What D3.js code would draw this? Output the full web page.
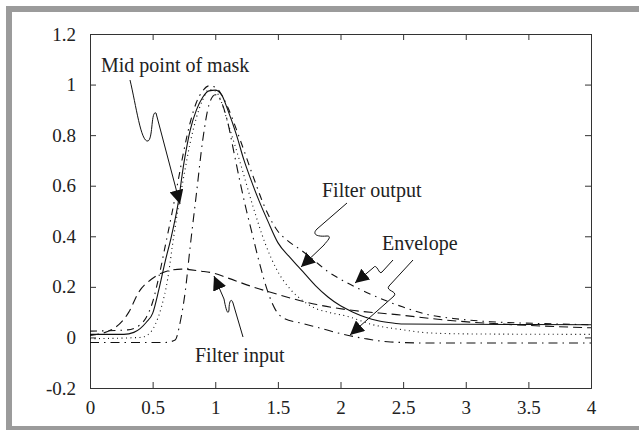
<!DOCTYPE html>
<html>
<head>
<meta charset="utf-8">
<script src="https://cdn.jsdelivr.net/npm/d3@7"></script>
<style>
  body { margin: 0; background: #fff; overflow: hidden; }
</style>
</head>
<body>
<svg id="chart" width="639" height="430"></svg>
<script>
// values
var xTicks = [0, 0.5, 1, 1.5, 2, 2.5, 3, 3.5, 4];
var yTicks = [-0.2, 0, 0.2, 0.4, 0.6, 0.8, 1, 1.2];

// filter output (solid)
var outputX = [0, 0.27, 0.35, 0.4, 0.45, 0.5, 0.55, 0.6, 0.65, 0.7, 0.75, 0.8, 0.85, 0.9, 0.95, 1.0, 1.05, 1.1, 1.17, 1.23, 1.28, 1.35, 1.42, 1.5, 1.6, 1.7, 1.8, 1.9, 2.0, 2.1, 2.2, 2.3, 2.4, 2.5, 3.0, 4.0];
var outputY = [0.012, 0.012, 0.02, 0.035, 0.06, 0.095, 0.19, 0.3, 0.4, 0.52, 0.69, 0.82, 0.9, 0.95, 0.975, 0.978, 0.96, 0.9, 0.8, 0.7, 0.63, 0.54, 0.46, 0.375, 0.315, 0.26, 0.205, 0.16, 0.125, 0.1, 0.08, 0.066, 0.058, 0.053, 0.052, 0.05];

// mid point of mask (dotted)
var midX = [0, 0.4, 0.46, 0.52, 0.57, 0.62, 0.66, 0.7, 0.75, 0.8, 0.85, 0.9, 0.95, 1.0, 1.05, 1.1, 1.2, 1.3, 1.4, 1.5, 1.6, 1.7, 1.8, 1.9, 2.05, 2.26, 2.5, 2.7, 3.0, 4.0];
var midY = [-0.005, 0.0, 0.01, 0.05, 0.12, 0.23, 0.37, 0.5, 0.64, 0.77, 0.87, 0.94, 0.98, 0.975, 0.93, 0.85, 0.69, 0.52, 0.37, 0.26, 0.19, 0.145, 0.115, 0.1, 0.084, 0.05, 0.03, 0.018, 0.014, 0.012];

// filter input (dashed)
var inputX = [0, 0.17, 0.31, 0.39, 0.49, 0.6, 0.73, 0.89, 0.98, 1.1, 1.3, 1.5, 1.68, 1.81, 2.05, 2.45, 2.9, 3.4, 4.0];
var inputY = [0.008, 0.03, 0.1, 0.18, 0.23, 0.26, 0.27, 0.262, 0.255, 0.235, 0.2, 0.17, 0.145, 0.13, 0.11, 0.09, 0.066, 0.05, 0.038];

// upper envelope (dash-dot)
var upperX = [0, 0.3, 0.4, 0.45, 0.5, 0.55, 0.6, 0.65, 0.7, 0.75, 0.8, 0.85, 0.9, 0.95, 1.0, 1.05, 1.1, 1.2, 1.3, 1.4, 1.5, 1.57, 1.7, 1.8, 1.9, 2.0, 2.2, 2.5, 2.7, 2.9, 3.2, 3.6, 4.0];
var upperY = [0.025, 0.03, 0.05, 0.08, 0.14, 0.24, 0.36, 0.48, 0.61, 0.74, 0.85, 0.93, 0.975, 0.995, 0.99, 0.96, 0.91, 0.78, 0.64, 0.51, 0.42, 0.386, 0.34, 0.3, 0.26, 0.23, 0.18, 0.12, 0.09, 0.075, 0.062, 0.055, 0.05];

// lower envelope (dash-dot)
var lowerX = [0, 0.6, 0.68, 0.72, 0.76, 0.8, 0.85, 0.9, 0.95, 1.0, 1.05, 1.1, 1.15, 1.2, 1.25, 1.3, 1.35, 1.42, 1.48, 1.55, 1.7, 1.85, 2.0, 2.2, 2.4, 2.7, 4.0];
var lowerY = [-0.02, -0.02, -0.01, 0.06, 0.18, 0.36, 0.57, 0.78, 0.92, 0.96, 0.93, 0.85, 0.73, 0.61, 0.5, 0.4, 0.3, 0.18, 0.11, 0.075, 0.055, 0.035, 0.015, -0.005, -0.018, -0.022, -0.022];

var serif = '"Liberation Serif", "Times New Roman", "DejaVu Serif", serif';
var svg = d3.select('#chart');
var plot = {left: 90, right: 591, top: 34, bottom: 388};

// grey frame round the figure (right edge runs off the picture)
svg.append('rect')
  .attr('x', 9).attr('y', 9)
  .attr('width', 660).attr('height', 420)
  .attr('fill', 'none')
  .attr('stroke', '#9b9b9b')
  .attr('stroke-width', 6);

var x = d3.scaleLinear().domain([0, 4]).range([plot.left, plot.right]);
var y = d3.scaleLinear().domain([-0.2, 1.2]).range([plot.bottom, plot.top]);

function fmt(d) { return String(Math.round(d * 10) / 10); }

// axes with inward ticks on all four sides
svg.append('g').attr('class', 'axis')
  .attr('transform', 'translate(0,' + plot.bottom + ')')
  .call(d3.axisBottom(x).tickValues(xTicks).tickSize(-6).tickPadding(13).tickFormat(fmt));
svg.append('g').attr('class', 'axis')
  .attr('transform', 'translate(0,' + plot.top + ')')
  .call(d3.axisTop(x).tickValues(xTicks).tickSize(-6).tickFormat(''));
svg.append('g').attr('class', 'axis')
  .attr('transform', 'translate(' + plot.left + ',0)')
  .call(d3.axisLeft(y).tickValues(yTicks).tickSize(-6).tickPadding(14).tickFormat(fmt));
svg.append('g').attr('class', 'axis')
  .attr('transform', 'translate(' + plot.right + ',0)')
  .call(d3.axisRight(y).tickValues(yTicks).tickSize(-6).tickFormat(''));

svg.selectAll('.axis path, .axis line').attr('stroke', '#333').attr('stroke-width', 1);
svg.selectAll('.axis').attr('font-family', null).attr('font-size', null);
svg.selectAll('.axis text')
  .style('font-family', serif)
  .style('font-size', '19px')
  .attr('fill', '#222');

var line = d3.line()
  .x(function(d) { return x(d[0]); })
  .y(function(d) { return y(d[1]); })
  .curve(d3.curveMonotoneX);

var series = [
  {xs: outputX, ys: outputY, dash: null},
  {xs: midX, ys: midY, dash: '1,3.5'},
  {xs: inputX, ys: inputY, dash: '9,5'},
  {xs: upperX, ys: upperY, dash: '7,5,1.5,5'},
  {xs: lowerX, ys: lowerY, dash: '9,5,1.5,5'}
];

svg.append('g').selectAll('path')
  .data(series)
  .enter()
  .append('path')
  .attr('d', function(s) {
    return line(s.xs.map(function(v, i) { return [v, s.ys[i]]; }));
  })
  .attr('fill', 'none')
  .attr('stroke', '#111')
  .attr('stroke-width', 1.1)
  .attr('stroke-dasharray', function(s) { return s.dash; });

// annotations
svg.append('defs').append('marker')
  .attr('id', 'head')
  .attr('viewBox', '0 0 10 10')
  .attr('refX', 10).attr('refY', 5)
  .attr('markerWidth', 14).attr('markerHeight', 14)
  .attr('markerUnits', 'userSpaceOnUse')
  .attr('orient', 'auto')
  .append('path')
  .attr('d', 'M0,0 L10,5 L0,10 Z')
  .attr('fill', '#111');

var notes = [
  {text: 'Mid point of mask', tx: 101, ty: 72,
   d: 'M130,80 C136,105 141,143 148,141 C153,139 151,110 156,113 L180,204'},
  {text: 'Filter output', tx: 322, ty: 197,
   d: 'M347,203 L317,229 C312,234 316,237 327,236 C333,236 326,242 324,245 L301,267'},
  {text: 'Filter input', tx: 195, ty: 362,
   d: 'M243,337 L233,303 C231,297 229,302 229,310 C228,316 226,310 224,299 L214,276'},
  {text: 'Envelope', tx: 382, ty: 250,
   d: 'M393,260 L382,272 C379,276 377,262 373,268 L355,283'},
  {text: '', tx: 0, ty: 0,
   d: 'M413,260 L389,286 C385,291 398,291 394,296 L350,335'}
];

var ann = svg.append('g');
ann.selectAll('path')
  .data(notes)
  .enter()
  .append('path')
  .attr('d', function(n) { return n.d; })
  .attr('fill', 'none')
  .attr('stroke', '#111')
  .attr('stroke-width', 1)
  .attr('marker-end', 'url(#head)');

ann.selectAll('text')
  .data(notes.filter(function(n) { return n.text; }))
  .enter()
  .append('text')
  .attr('x', function(n) { return n.tx; })
  .attr('y', function(n) { return n.ty; })
  .style('font-family', serif)
  .style('font-size', '20px')
  .attr('fill', '#222')
  .text(function(n) { return n.text; });
</script>
</body>
</html>
